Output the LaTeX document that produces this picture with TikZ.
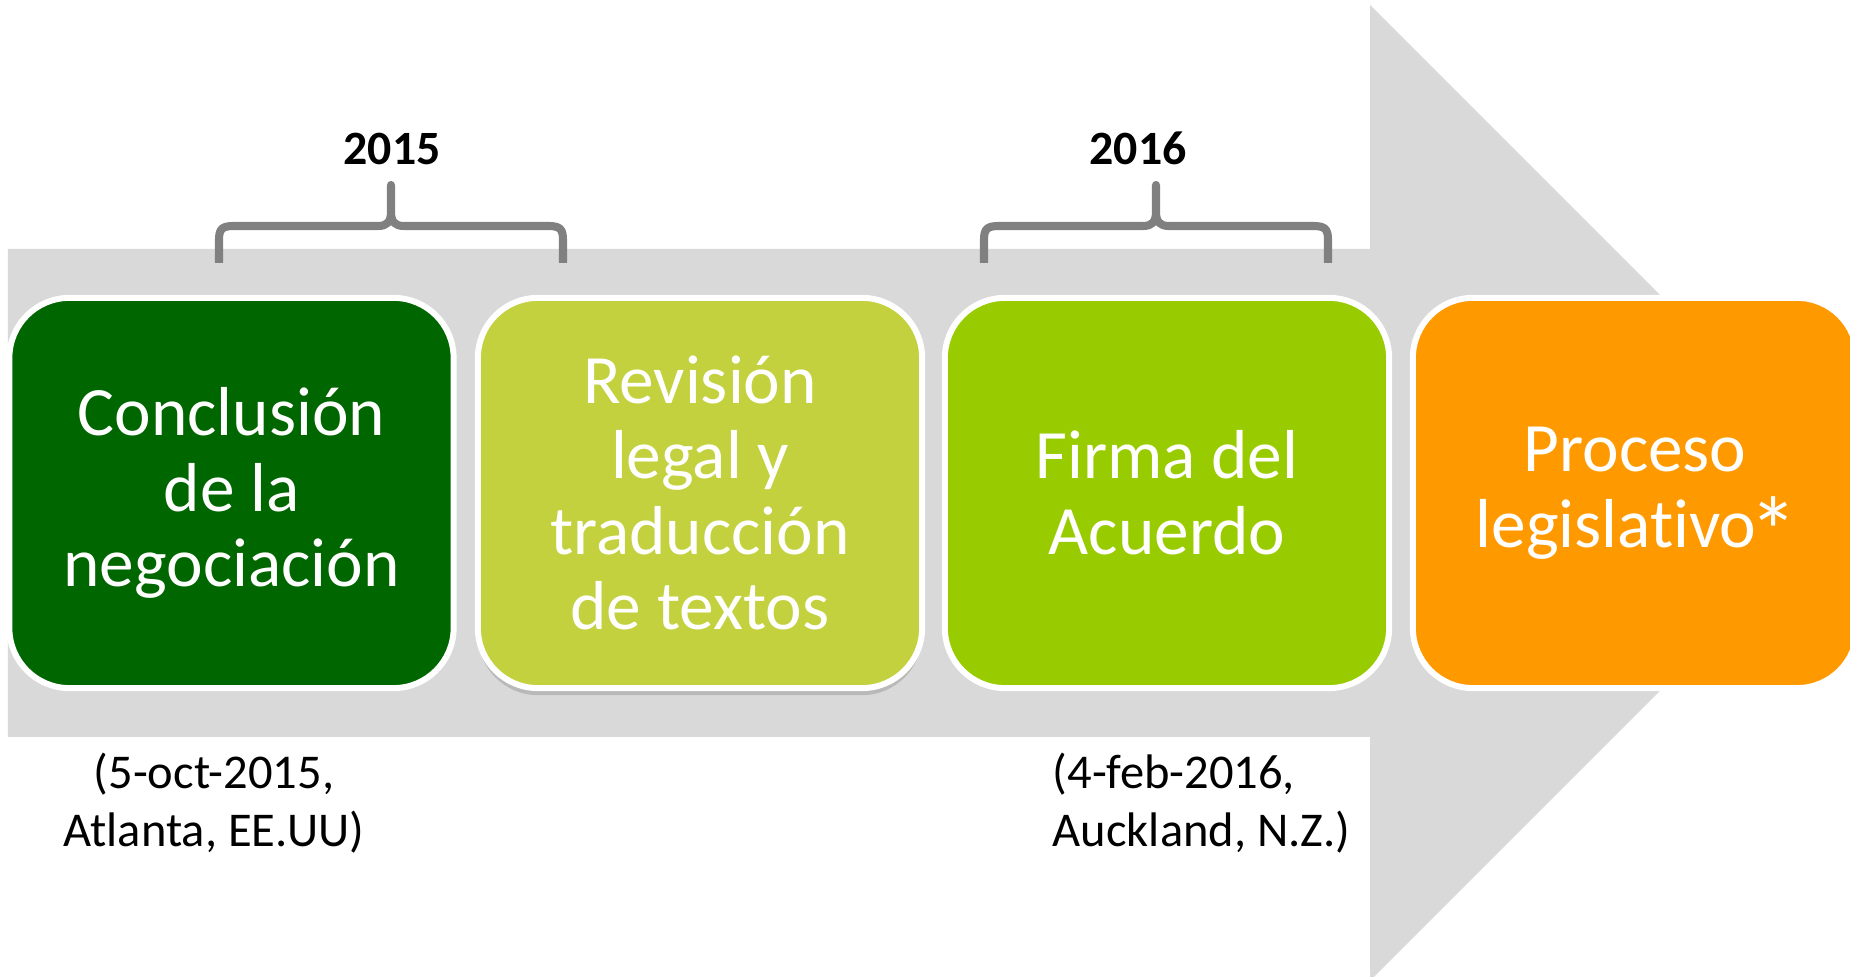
\documentclass[tikz,border=0pt]{standalone}
\usepackage{fontspec}
\usepackage{graphicx}
\setmainfont{Carlito}[Ligatures=NoCommon]
\usetikzlibrary{shadows}
\definecolor{bandgray}{RGB}{217,217,217}
\definecolor{bracegray}{RGB}{128,128,128}
\definecolor{cdark}{RGB}{0,102,0}
\definecolor{colive}{RGB}{195,209,62}
\definecolor{clime}{RGB}{153,204,0}
\definecolor{corange}{RGB}{255,153,0}
\newcommand{\bigast}{\kern-0.1em\smash{\raisebox{-0.27em}{\scalebox{1.4}{*}}}\kern-0.05em}
\tikzset{
  stepbox/.style={draw=white, line width=1.7pt, rounded corners=0.6cm,
    minimum width=4.44cm, minimum height=3.9cm, align=center, text=white,
    font=\fontsize{19.7}{21.5}\selectfont, inner sep=0pt},
  yearlabel/.style={font=\fontsize{13.6}{16.5}\selectfont\bfseries, anchor=base, inner sep=0pt},
  datelabel/.style={font=\fontsize{13.8}{16.5}\selectfont, inner sep=0pt},
  bracestyle/.style={draw=bracegray, line width=2.3pt, line join=round},
  pics/yearbrace/.style={code={
    \draw[bracestyle] (0,263) -- (0,240) .. controls (0,229) and (3,226) .. (15,226)
      -- (159,226) .. controls (168,226) and (172,222) .. (172,212) -- (172,185)
      -- (172,212) .. controls (172,222) and (176,226) .. (185,226)
      -- (329,226) .. controls (341,226) and (344,229) .. (344,240) -- (344,263);
  }}
}
\begin{document}
\begin{tikzpicture}[x=0.01cm, y=-0.01cm]
\useasboundingbox (0,0) rectangle (1850,977);
% big arrow
\fill[bandgray] (8,249) -- (1370,249) -- (1370,5) -- (1858,493) -- (1370,981)
  -- (1370,737) -- (8,737) -- cycle;
% braces
\pic at (219,0) {yearbrace};
\pic at (984,0) {yearbrace};
\node[yearlabel] (y2015) at (392,165) {2015};
\node[yearlabel] (y2016) at (1138,165) {2016};
% boxes
\node[stepbox, fill=cdark] (b1) at (231.5,493) {Conclusión\\de la\\negociación};
\node[stepbox, fill=colive, drop shadow={shadow xshift=0pt, shadow yshift=-2pt, opacity=0.35}] (b2) at (700,493) {Revisión\\legal y\\traducción\\de textos};
\node[stepbox, fill=clime] (b3) at (1167,493) {Firma del\\Acuerdo};
\node[stepbox, fill=corange] (b4) at (1635,493) {Proceso\\legislativo\bigast};
% dates
\node[datelabel, align=center, anchor=north] (d1) at (214,752) {(5-oct-2015,\\Atlanta, EE.UU)};
\node[datelabel, align=left, anchor=north west] (d2) at (1052,752) {(4-feb-2016,\\Auckland, N.Z.)};
\end{tikzpicture}
\end{document}
